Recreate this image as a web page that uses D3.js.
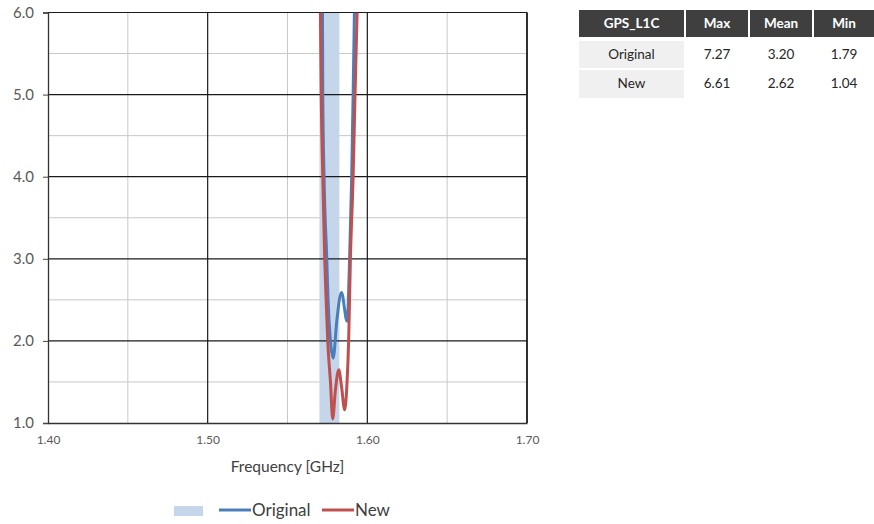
<!DOCTYPE html>
<html>
<head>
<meta charset="utf-8">
<script src="https://cdn.jsdelivr.net/npm/d3@7"></script>
<style>
  body { margin: 0; background: #fff; }
  svg { display: block; font-family: Lato, "Open Sans", sans-serif; }
</style>
</head>
<body>
<div id="chart"></div>
<script>
// frequency [GHz] / value readings
let origFreq = [1.5719, 1.5721, 1.5729, 1.5746, 1.5754, 1.5769, 1.5786, 1.5809, 1.5838, 1.5873, 1.5889, 1.5902, 1.5911, 1.5919];
let origVal  = [6.0,    5.0,    4.0,    3.0,    2.5,    2.0,    1.79,   2.25,   2.59,   2.24,   3.0,    4.0,    5.0,    6.0];
let newFreq  = [1.5706, 1.5711, 1.5721, 1.5733, 1.5742, 1.5752, 1.5769, 1.5783, 1.5800, 1.5821, 1.5838, 1.5858, 1.5873, 1.5883, 1.5894, 1.5911, 1.5923, 1.5936];
let newVal   = [6.0,    5.0,    4.0,    3.0,    2.5,    2.0,    1.5,    1.05,   1.40,   1.65,   1.45,   1.16,   1.5,    2.0,    3.0,    4.0,    5.0,    6.0];
let band = [1.5700, 1.5825];

let tableHead = ["GPS_L1C", "Max", "Mean", "Min"];
let tableRows = [["Original", "7.27", "3.20", "1.79"], ["New", "6.61", "2.62", "1.04"]];

let width = 874, height = 524;
let pLeft = 48, pRight = 527, pTop = 12.5, pBottom = 423;

let svg = d3.select("#chart").append("svg")
    .attr("width", width)
    .attr("height", height);

let x = d3.scaleLinear().domain([1.40, 1.70]).range([pLeft, pRight]);
let y = d3.scaleLinear().domain([1.0, 6.0]).range([pBottom, pTop]);

svg.append("clipPath").attr("id", "clip")
  .append("rect")
    .attr("x", pLeft).attr("y", pTop)
    .attr("width", pRight - pLeft).attr("height", pBottom - pTop);

// minor grid
svg.append("g").selectAll("line")
    .data(d3.range(1.5, 6, 1))
  .enter().append("line")
    .attr("x1", pLeft).attr("x2", pRight)
    .attr("y1", d => y(d)).attr("y2", d => y(d))
    .attr("stroke", "#c8c8c8").attr("stroke-width", 1);

svg.append("g").selectAll("line")
    .data([1.45, 1.55, 1.65])
  .enter().append("line")
    .attr("y1", pTop).attr("y2", pBottom)
    .attr("x1", d => x(d)).attr("x2", d => x(d))
    .attr("stroke", "#c8c8c8").attr("stroke-width", 1);

// band
svg.append("rect")
    .attr("x", x(band[0]))
    .attr("y", pTop)
    .attr("width", x(band[1]) - x(band[0]))
    .attr("height", pBottom - pTop)
    .attr("fill", "#c5d5ea");

// major grid
svg.append("g").selectAll("line")
    .data([2, 3, 4, 5, 6])
  .enter().append("line")
    .attr("x1", pLeft).attr("x2", pRight)
    .attr("y1", d => y(d)).attr("y2", d => y(d))
    .attr("stroke", "#1a1a1a").attr("stroke-width", 1.2);

svg.append("g").selectAll("line")
    .data([1.50, 1.60, 1.70])
  .enter().append("line")
    .attr("y1", pTop).attr("y2", pBottom)
    .attr("x1", d => x(d)).attr("x2", d => x(d))
    .attr("stroke", "#1a1a1a").attr("stroke-width", 1.2);

// axes
let yAxis = svg.append("g")
    .attr("transform", "translate(" + pLeft + ",0)")
    .call(d3.axisLeft(y).tickValues([1, 2, 3, 4, 5, 6]).tickFormat(d3.format(".1f")).tickSize(5).tickPadding(9));
yAxis.select(".domain").attr("stroke", "#333").attr("stroke-width", 1.3);
yAxis.selectAll(".tick line").attr("stroke", "#444");
yAxis.selectAll("text").attr("fill", "#595959").style("font-size", "15px").style("font-family", "Lato, sans-serif");

let xAxis = svg.append("g")
    .attr("transform", "translate(0," + pBottom + ")")
    .call(d3.axisBottom(x).tickValues([1.40, 1.50, 1.60, 1.70]).tickFormat(d3.format(".2f")).tickSize(0).tickPadding(12));
xAxis.select(".domain").attr("stroke", "#333").attr("stroke-width", 1.3);
xAxis.selectAll("text").attr("fill", "#595959").style("font-size", "12px").style("font-family", "Lato, sans-serif");

svg.append("text")
    .attr("x", (pLeft + pRight) / 2)
    .attr("y", 472)
    .attr("text-anchor", "middle")
    .attr("fill", "#404040")
    .style("font-size", "15.5px")
    .text("Frequency [GHz]");

// curves
let line = d3.line()
    .x(d => x(d[0]))
    .y(d => y(d[1]))
    .curve(d3.curveMonotoneX);

let curves = svg.append("g").attr("clip-path", "url(#clip)");
curves.append("path")
    .datum(origFreq.map((f, i) => [f, origVal[i]]))
    .attr("d", line)
    .attr("fill", "none")
    .attr("stroke", "#4a7ebb")
    .attr("stroke-width", 3);
curves.append("path")
    .datum(newFreq.map((f, i) => [f, newVal[i]]))
    .attr("d", line)
    .attr("fill", "none")
    .attr("stroke", "#c0504d")
    .attr("stroke-width", 3);

// right border
svg.append("line")
    .attr("x1", pRight).attr("x2", pRight)
    .attr("y1", pTop).attr("y2", pBottom)
    .attr("stroke", "#1a1a1a").attr("stroke-width", 1.5);

// legend
let legend = svg.append("g");
legend.append("rect")
    .attr("x", 174).attr("y", 506)
    .attr("width", 29).attr("height", 10)
    .attr("fill", "#c5d5ea");
legend.append("line")
    .attr("x1", 219).attr("x2", 251).attr("y1", 510).attr("y2", 510)
    .attr("stroke", "#4a7ebb").attr("stroke-width", 3);
legend.append("text")
    .attr("x", 252).attr("y", 516)
    .attr("fill", "#404040").style("font-size", "17px")
    .text("Original");
legend.append("line")
    .attr("x1", 322).attr("x2", 354).attr("y1", 510).attr("y2", 510)
    .attr("stroke", "#c0504d").attr("stroke-width", 3);
legend.append("text")
    .attr("x", 355).attr("y", 516)
    .attr("fill", "#404040").style("font-size", "17px")
    .text("New");

// table
let colX = [579, 686, 750, 814];
let colW = [105, 62, 62, 60];
let rowY = [10, 41, 70];
let rowH = [27, 27, 28];

let table = svg.append("g").style("font-size", "13.5px");
tableHead.forEach((h, i) => {
  table.append("rect")
    .attr("x", colX[i]).attr("y", rowY[0])
    .attr("width", colW[i]).attr("height", rowH[0])
    .attr("fill", "#3f3f3f");
  table.append("text")
    .attr("x", colX[i] + colW[i] / 2).attr("y", rowY[0] + 18)
    .attr("text-anchor", "middle")
    .attr("fill", "#fff")
    .style("font-weight", "bold")
    .text(h);
});
tableRows.forEach((r, j) => {
  r.forEach((c, i) => {
    if (i == 0) {
      table.append("rect")
        .attr("x", colX[i]).attr("y", rowY[j + 1])
        .attr("width", colW[i]).attr("height", rowH[j + 1])
        .attr("fill", "#f0f0f0");
    }
    table.append("text")
      .attr("x", colX[i] + colW[i] / 2).attr("y", rowY[j + 1] + 18)
      .attr("text-anchor", "middle")
      .attr("fill", "#262626")
      .text(c);
  });
});
</script>
</body>
</html>
